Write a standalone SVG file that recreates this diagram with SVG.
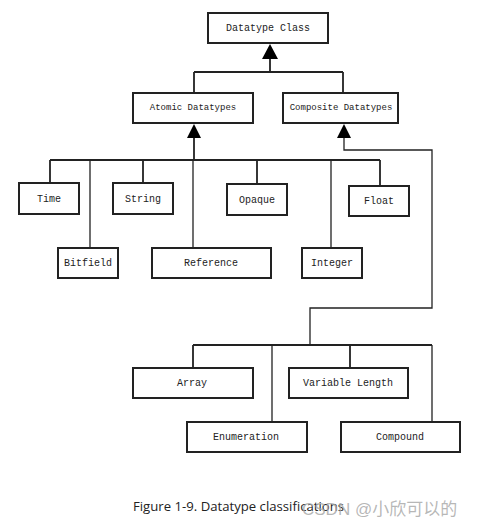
<svg xmlns="http://www.w3.org/2000/svg" width="487" height="527" viewBox="0 0 487 527">
<style>
.box{fill:#fff;stroke:#222;stroke-width:2}
.lbl{font-family:"Liberation Mono","DejaVu Sans Mono",monospace;font-size:10px;fill:#222;text-anchor:middle;dominant-baseline:central}
.sm{font-size:9px}
.ln{fill:none;stroke:#222;stroke-width:1.8}
.thin{stroke-width:1.3}
.arr{fill:#000}
</style>
<rect width="487" height="527" fill="#fff"/>
<g id="connectors">
<path class="ln" d="M270 58 V72 M194 72 H343 M194 72 V93 M343 72 V93"/>
<polygon class="arr" points="270,44 262,59 278,59"/>
<path class="ln" d="M194 137 V160 M50 160 H380 M50 160 V183 M143 160 V183 M257 160 V184 M380 160 V186"/>
<path class="ln thin" d="M90 160 V248 M193 160 V248 M331 160 V248"/>
<polygon class="arr" points="194,124 187,138 201,138"/>
<path class="ln thin" d="M344 137 V150 H432 V308 H310 V345"/>
<polygon class="arr" points="344,124 337,138 351,138"/>
<path class="ln" d="M193 345 H432 M193 345 V368 M350 345 V368"/>
<path class="ln thin" d="M272 345 V422 M432 345 V422"/>
</g>
<g id="datatype-class"><rect class="box" x="208" y="13" width="120" height="30"/><text class="lbl" x="268" y="28">Datatype Class</text></g>
<g id="atomic"><rect class="box" x="133" y="93" width="120" height="30"/><text class="lbl sm" x="193" y="108">Atomic Datatypes</text></g>
<g id="composite"><rect class="box" x="283" y="93" width="115" height="30"/><text class="lbl sm" x="341" y="108">Composite Datatypes</text></g>
<g id="time"><rect class="box" x="19" y="183" width="60" height="31"/><text class="lbl" x="49" y="199">Time</text></g>
<g id="string"><rect class="box" x="113" y="183" width="60" height="31"/><text class="lbl" x="143" y="199">String</text></g>
<g id="opaque"><rect class="box" x="227" y="184" width="60" height="31"/><text class="lbl" x="257" y="200">Opaque</text></g>
<g id="float"><rect class="box" x="349" y="186" width="60" height="30"/><text class="lbl" x="379" y="201">Float</text></g>
<g id="bitfield"><rect class="box" x="58" y="248" width="60" height="30"/><text class="lbl" x="88" y="263">Bitfield</text></g>
<g id="reference"><rect class="box" x="152" y="248" width="119" height="30"/><text class="lbl" x="211" y="263">Reference</text></g>
<g id="integer"><rect class="box" x="302" y="248" width="60" height="30"/><text class="lbl" x="332" y="263">Integer</text></g>
<g id="array"><rect class="box" x="133" y="368" width="120" height="30"/><text class="lbl" x="192" y="383">Array</text></g>
<g id="variable-length"><rect class="box" x="289" y="368" width="119" height="30"/><text class="lbl" x="348" y="383">Variable Length</text></g>
<g id="enumeration"><rect class="box" x="187" y="422" width="120" height="30"/><text class="lbl" x="246" y="437">Enumeration</text></g>
<g id="compound"><rect class="box" x="341" y="422" width="119" height="30"/><text class="lbl" x="400" y="437">Compound</text></g>
<text x="133" y="511" font-family="'Open Sans','Liberation Sans',sans-serif" font-size="12.5" fill="#222" textLength="211" lengthAdjust="spacingAndGlyphs">Figure 1-9. Datatype classifications</text>
<text x="302" y="515" font-family="'Liberation Sans','Noto Sans CJK SC',sans-serif" font-size="17" fill="#aaa" fill-opacity="0.85">CSDN @小欣可以的</text>
</svg>
